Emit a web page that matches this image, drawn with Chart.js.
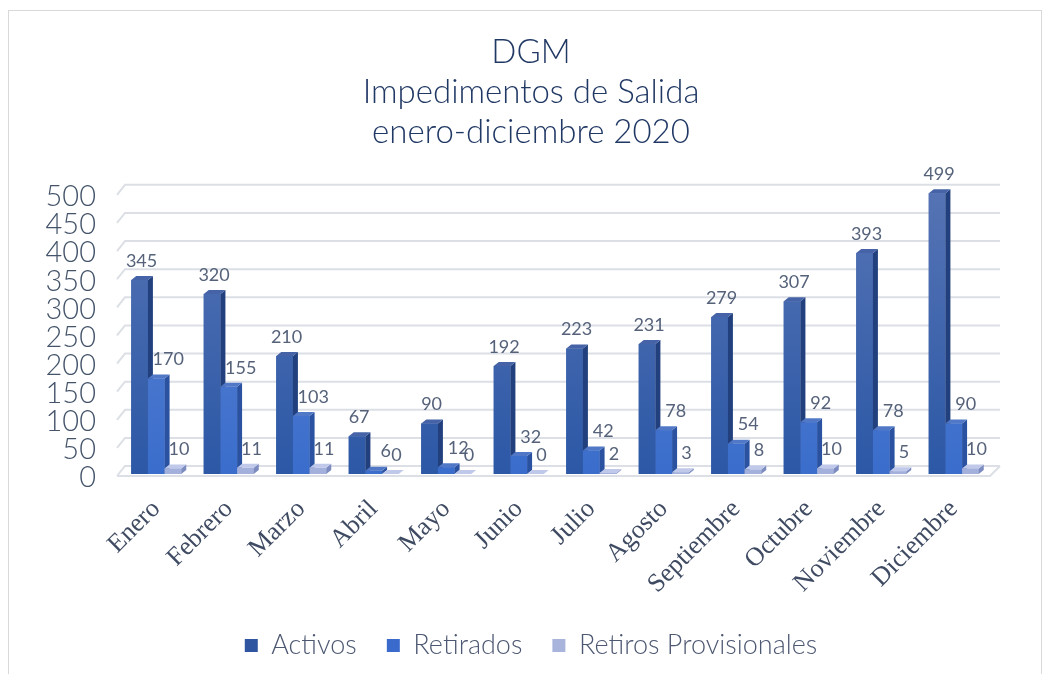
<!DOCTYPE html>
<html>
<head>
<meta charset="utf-8">
<script src="https://cdn.jsdelivr.net/npm/chart.js@4/dist/chart.umd.min.js"></script>
<style>
  html, body { margin: 0; padding: 0; background: #ffffff; }
  #wrap { position: relative; width: 1048px; height: 674px; }
  #frame { position: absolute; left: 8px; top: 10px; width: 1034px; height: 670px; border: 1px solid #d9d9d9; box-sizing: border-box; }
  canvas { position: absolute; left: 0; top: 0; }
</style>
</head>
<body>
<div id="wrap">
  <div id="frame"></div>
  <canvas id="c" width="1048" height="674"></canvas>
</div>
<script>
const categories = ['Enero', 'Febrero', 'Marzo', 'Abril', 'Mayo', 'Junio', 'Julio', 'Agosto', 'Septiembre', 'Octubre', 'Noviembre', 'Diciembre'];
const activos = [345, 320, 210, 67, 90, 192, 223, 231, 279, 307, 393, 499];
const retirados = [170, 155, 103, 6, 12, 32, 42, 78, 54, 92, 78, 90];
const retirosProvisionales = [10, 11, 11, 0, 0, 0, 2, 3, 8, 10, 5, 10];
const seriesNames = ['Activos', 'Retirados', 'Retiros Provisionales'];
const titleLines = ['DGM', 'Impedimentos de Salida', 'enero-diciembre 2020'];

const DX = 5, DY = 4;
const faceColors = [
  { top: ['#5573b4', '#2c58a6'], side: '#22407e', cap: '#4563a6', legend: '#2f54a0' },
  { top: ['#5f84d0', '#3a6dcc'], side: '#2a52a0', cap: '#5078c6', legend: '#3a6bcc' },
  { top: ['#b3bee4', '#a3b0dc'], side: '#7d8cc0', cap: '#c0c9ea', legend: '#a8b4dc' }
];

function gradFor(idx) {
  return function (ctx) {
    const chart = ctx.chart;
    const area = chart.chartArea;
    if (!area) return faceColors[idx].legend;
    const g = chart.ctx.createLinearGradient(0, area.top, 0, area.bottom);
    g.addColorStop(0, faceColors[idx].top[0]);
    g.addColorStop(1, faceColors[idx].top[1]);
    return g;
  };
}

const grid3d = {
  id: 'grid3d',
  beforeDatasetsDraw(chart) {
    const y = chart.scales.y;
    const a = chart.chartArea;
    const ctx = chart.ctx;
    ctx.save();
    ctx.strokeStyle = '#dcdfe5';
    ctx.lineWidth = 2;
    y.ticks.forEach(t => {
      const py = y.getPixelForValue(t.value);
      ctx.beginPath();
      ctx.moveTo(a.left - 3, py + 2);
      ctx.lineTo(a.left + 5, py - 8);
      ctx.lineTo(a.right + 10, py - 8);
      ctx.stroke();
    });
    const p0 = y.getPixelForValue(0);
    ctx.beginPath();
    ctx.moveTo(a.left - 3, p0 + 2);
    ctx.lineTo(a.right, p0 + 2);
    ctx.lineTo(a.right + 10, p0 - 8);
    ctx.stroke();
    ctx.restore();
  }
};

const bars3d = {
  id: 'bars3d',
  afterDatasetsDraw(chart) {
    const ctx = chart.ctx;
    ctx.save();
    // redraw in series order so each column's depth faces sit behind the next column
    chart.data.datasets.forEach((ds, idx) => {
      const meta = chart.getDatasetMeta(idx);
      meta.data.forEach(bar => {
        bar.draw(ctx);
        const p = bar.getProps(['x', 'y', 'base', 'width'], true);
        const l = p.x - p.width / 2, r = p.x + p.width / 2;
        const top = Math.min(p.y, p.base), bot = Math.max(p.y, p.base);
        ctx.fillStyle = faceColors[idx].side;
        ctx.beginPath();
        ctx.moveTo(r, top);
        ctx.lineTo(r + DX, top - DY);
        ctx.lineTo(r + DX, bot - DY);
        ctx.lineTo(r, bot);
        ctx.closePath();
        ctx.fill();
        ctx.fillStyle = faceColors[idx].cap;
        ctx.beginPath();
        ctx.moveTo(l, top);
        ctx.lineTo(l + DX, top - DY);
        ctx.lineTo(r + DX, top - DY);
        ctx.lineTo(r, top);
        ctx.closePath();
        ctx.fill();
      });
    });
    const offsets = [2, 12, 6];
    ctx.font = '400 18px Lato';
    ctx.fillStyle = '#55627a';
    ctx.textAlign = 'center';
    ctx.textBaseline = 'middle';
    chart.data.datasets.forEach((ds, i) => {
      const meta = chart.getDatasetMeta(i);
      meta.data.forEach((bar, j) => {
        const p = bar.getProps(['x', 'y'], true);
        ctx.fillText(String(ds.data[j]), p.x + offsets[i], p.y - 19);
      });
    });
    ctx.restore();
  }
};

new Chart(document.getElementById('c'), {
  type: 'bar',
  data: {
    labels: categories,
    datasets: [
      { label: seriesNames[0], data: activos, backgroundColor: gradFor(0) },
      { label: seriesNames[1], data: retirados, backgroundColor: gradFor(1) },
      { label: seriesNames[2], data: retirosProvisionales, backgroundColor: gradFor(2) }
    ]
  },
  options: {
    responsive: false,
    animation: false,
    events: [],
    datasets: { bar: { categoryPercentage: 0.69, barPercentage: 1.0 } },
    layout: { padding: { left: 18, right: 4, top: 0, bottom: 5 } },
    plugins: {
      title: {
        display: true,
        text: titleLines,
        color: '#203864',
        font: { family: 'Lato', size: 33, weight: '300', lineHeight: 1.2 },
        padding: { top: 33, bottom: 41 }
      },
      legend: {
        position: 'bottom',
        labels: {
          generateLabels(chart) {
            return chart.data.datasets.map((ds, i) => ({
              text: ds.label, fillStyle: faceColors[i].legend, strokeStyle: faceColors[i].legend,
              lineWidth: 0, hidden: false, datasetIndex: i, fontColor: '#4d5872'
            }));
          },
          boxWidth: 13, boxHeight: 13, padding: 30,
          color: '#4d5872',
          font: { family: 'Lato', size: 27, weight: '300' }
        }
      },
      tooltip: { enabled: false }
    },
    scales: {
      x: {
        grid: { display: false, drawTicks: false },
        border: { display: false },
        ticks: {
          color: '#3f4b62', maxRotation: 45, minRotation: 45, padding: 20,
          font: { family: 'Liberation Serif', size: 26 }
        },
        afterFit(s) { s.height = 128; }
      },
      y: {
        min: 0, max: 500,
        grid: { display: false, drawTicks: false },
        border: { display: false },
        ticks: {
          stepSize: 50, color: '#44546a', padding: 24, labelOffset: 4,
          font: { family: 'Lato', size: 29, weight: '300', lineHeight: 0.8 }
        },
        afterFit(s) { s.width = 102; }
      },
      yRight: {
        position: 'right',
        grid: { display: false, drawTicks: false },
        border: { display: false },
        ticks: { display: false },
        afterFit(s) { s.width = 54; }
      }
    }
  },
  plugins: [grid3d, bars3d]
});
</script>
</body>
</html>
